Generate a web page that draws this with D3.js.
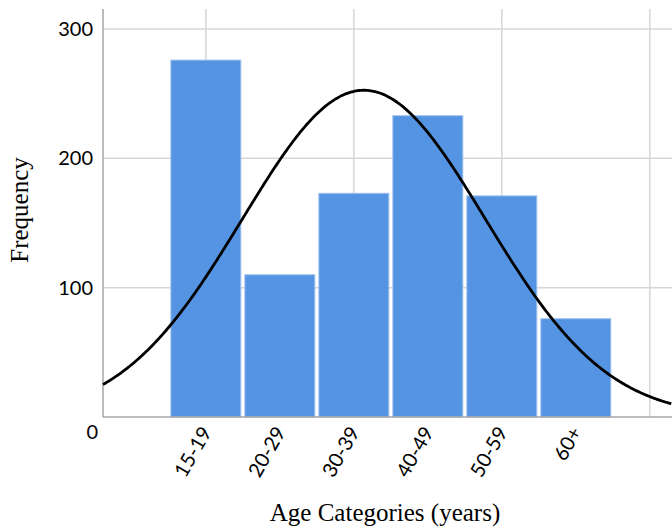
<!DOCTYPE html>
<html>
<head>
<meta charset="utf-8">
<script src="https://cdn.jsdelivr.net/npm/d3@7"></script>
<style>
  body { margin: 0; background: #fff; }
  .tick text { font-family: Lato, "Open Sans", sans-serif; font-size: 20px; fill: #000; }
  .title { font-family: "Liberation Serif", "DejaVu Serif", serif; font-size: 25px; fill: #000; }
</style>
</head>
<body>
<div id="chart"></div>
<script>
// age categories, coded 1..6 on the x scale
const categories = ['15-19', '20-29', '30-39', '40-49', '50-59', '60+'];
const counts = [276, 110, 173, 233, 171, 76];
const yTicks = [0, 100, 200, 300];
const xGridValues = [1, 3, 5, 7];

const width = 672;
const height = 528;
const plot = {left: 103, right: 672, top: 9, bottom: 417};

const svg = d3.select('#chart')
  .append('svg')
  .attr('width', width)
  .attr('height', height);

const x = d3.scaleLinear()
  .domain([-0.39, 7.3])
  .range([plot.left, plot.right]);

const y = d3.scaleLinear()
  .domain([0, 315.5])
  .range([plot.bottom, plot.top]);

// gridlines
svg.append('g')
  .selectAll('line')
  .data(yTicks.filter(d => d > 0))
  .enter().append('line')
    .attr('x1', plot.left).attr('x2', plot.right)
    .attr('y1', d => y(d)).attr('y2', d => y(d))
    .style('stroke', '#d6d6d6')
    .style('stroke-width', 1.5);

svg.append('g')
  .selectAll('line')
  .data(xGridValues)
  .enter().append('line')
    .attr('x1', d => x(d)).attr('x2', d => x(d))
    .attr('y1', plot.top).attr('y2', plot.bottom)
    .style('stroke', '#d6d6d6')
    .style('stroke-width', 1.5);

// bars
const data = categories.map((c, i) => ({cat: c, code: i + 1, n: counts[i]}));

svg.append('g')
  .selectAll('rect')
  .data(data)
  .enter().append('rect')
    .attr('x', d => x(d.code - 0.5) + 2)
    .attr('width', d => x(d.code + 0.5) - x(d.code - 0.5) - 4)
    .attr('y', d => y(d.n))
    .attr('height', d => y(0) - y(d.n))
    .style('fill', '#5594e2')
    .style('stroke', '#9fc2ee')
    .style('stroke-width', 1);

// axes
svg.append('line')
  .attr('x1', plot.left).attr('x2', plot.left)
  .attr('y1', plot.top).attr('y2', plot.bottom)
  .style('stroke', '#a6a6a6').style('stroke-width', 1.5);

svg.append('line')
  .attr('x1', plot.left).attr('x2', plot.right)
  .attr('y1', plot.bottom).attr('y2', plot.bottom)
  .style('stroke', '#a6a6a6').style('stroke-width', 1.5);

const yAxis = svg.append('g')
  .attr('transform', `translate(${plot.left},0)`)
  .call(d3.axisLeft(y).tickValues(yTicks).tickSize(0).tickPadding(10));
yAxis.select('.domain').remove();
yAxis.selectAll('.tick')
  .filter(d => d === 0)
  .select('text')
  .attr('x', -5)
  .attr('dy', '1.05em');

const xAxis = svg.append('g')
  .attr('transform', `translate(0,${plot.bottom})`)
  .call(d3.axisBottom(x).tickValues(data.map(d => d.code)).tickFormat((d, i) => categories[i]).tickSize(0));
xAxis.select('.domain').remove();
xAxis.selectAll('.tick text')
  .attr('text-anchor', 'end')
  .attr('x', 0).attr('y', 0).attr('dy', 0)
  .attr('transform', 'translate(6,15) rotate(-60)');

// normal curve fitted to the binned ages
const total = d3.sum(counts);
const mean = d3.sum(data, d => d.code * d.n) / total;
const sd = Math.sqrt(d3.sum(data, d => d.n * (d.code - mean) ** 2) / total);
const density = v => total / (sd * Math.sqrt(2 * Math.PI)) * Math.exp(-0.5 * ((v - mean) / sd) ** 2);

const curve = d3.range(x.domain()[0], x.domain()[1] + 0.01, 0.02);
svg.append('path')
  .datum(curve)
  .attr('d', d3.line().x(d => x(d)).y(d => y(density(d))).curve(d3.curveBasis))
  .style('fill', 'none')
  .style('stroke', '#000')
  .style('stroke-width', 2.8);

// titles
svg.append('text')
  .attr('class', 'title')
  .attr('transform', 'translate(28,210) rotate(-90)')
  .attr('text-anchor', 'middle')
  .text('Frequency');

svg.append('text')
  .attr('class', 'title')
  .attr('x', 385)
  .attr('y', 521)
  .attr('text-anchor', 'middle')
  .text('Age Categories (years)');
</script>
</body>
</html>
